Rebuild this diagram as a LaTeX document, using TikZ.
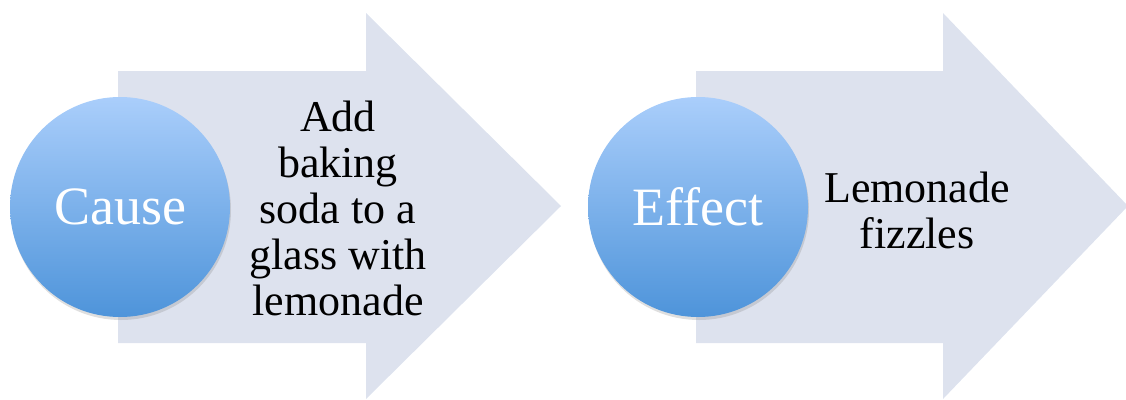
\documentclass[tikz,border=0pt]{standalone}
\usepackage{fontspec}
\setmainfont{Liberation Serif}
\usetikzlibrary{shadows}

\definecolor{arrowfill}{RGB}{221,226,238}
\definecolor{balltop}{RGB}{170,206,251}
\definecolor{ballbottom}{RGB}{78,148,218}

\begin{document}
\begin{tikzpicture}[x=1pt, y=-1pt,
    ball/.style={circle, minimum size=220pt, inner sep=0pt,
      top color=balltop, bottom color=ballbottom, text=white,
      font=\fontsize{54}{60}\selectfont,
      drop shadow={opacity=0.25, shadow xshift=1pt, shadow yshift=-3pt}},
    label/.style={align=center, inner sep=0pt,
      font=\fontsize{44}{46}\selectfont}]
  \useasboundingbox (0,0) rectangle (1126,399);
  % the two block arrows
  \fill [arrowfill] (118,71) -- (366,71) -- (366,13) -- (561,206)
    -- (366,399) -- (366,343) -- (118,343) -- cycle;
  \fill [arrowfill] (696,71) -- (943,71) -- (943,13) -- (1128,206)
    -- (943,399) -- (943,343) -- (696,343) -- cycle;
  % circles
  \node [ball] (cause) at (120,207) {Cause};
  \node [ball] (effect) at (698,207) {Effect};
  % texts
  \node [label] (causetext) at (338,208)
    {Add\\baking\\soda to a\\glass with\\lemonade};
  \node [label] (effecttext) at (917,210) {Lemonade\\fizzles};
\end{tikzpicture}
\end{document}
